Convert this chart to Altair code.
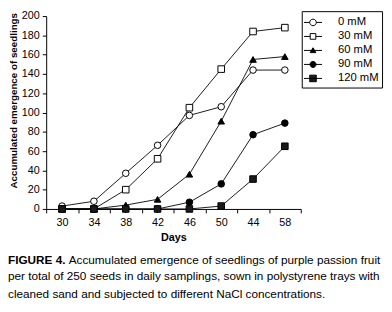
import altair as alt
import pandas as pd

days = ["30", "34", "38", "42", "46", "50", "44", "58"]
series = ["0 mM", "30 mM", "60 mM", "90 mM", "120 mM"]
v0 = [3, 8, 37, 66, 97, 106, 144, 144]
v30 = [0, 0, 20, 52, 105, 145, 184, 188]
v60 = [0, 0, 4, 10, 36, 91, 155, 158]
v90 = [0, 0, 0, 0, 7, 26, 77, 89]
v120 = [0, 0, 0, 0, 0, 3, 31, 65]
y_ticks = [0, 20, 40, 60, 80, 100, 120, 140, 160, 180, 200]
caption_bold = "FIGURE 4."
caption_lines = [
    "Accumulated emergence of seedlings of purple passion fruit",
    "per total of 250 seeds in daily samplings, sown in polystyrene trays with",
    "cleaned sand and subjected to different NaCl concentrations.",
]

rows = []
for s, vals in zip(series, [v0, v30, v60, v90, v120]):
    for d, v in zip(days, vals):
        rows.append({"day": d, "series": s, "key": s, "value": v})
df = pd.DataFrame(rows)

FONT = "Liberation Sans, Arial, sans-serif"

marker_shapes = ["circle", "square", "triangle-up", "circle", "square"]
marker_fills = ["white", "white", "black", "black", "#1a1a1a"]
legend_paths = [
    "M-1.15,0H-0.42M0.42,0H1.15M0.42,0A0.42,0.42,0,1,1,-0.42,0A0.42,0.42,0,1,1,0.42,0Z",
    "M-1.15,0H-0.36M0.36,0H1.15M-0.36,-0.36H0.36V0.36H-0.36Z",
    "M-1.15,0H1.15M0,-0.34L0.36,0.28L-0.36,0.28Z",
    "M-1.15,0H1.15M0.38,0A0.38,0.38,0,1,1,-0.38,0A0.38,0.38,0,1,1,0.38,0Z",
    "M-1.15,0H1.15M-0.42,-0.42H0.42V0.42H-0.42Z",
]

x = alt.X(
    "day:O",
    sort=days,
    scale=alt.Scale(type="band", paddingInner=0, paddingOuter=0),
    axis=alt.Axis(title="Days", labelAngle=0, tickBand="extent", tickSize=4,
                  labelPadding=4, titlePadding=4),
)
y = alt.Y(
    "value:Q",
    scale=alt.Scale(domain=[0, 200], nice=False),
    axis=alt.Axis(title="Accumulated emergence of seedlings", values=y_ticks,
                  tickSize=4, labelPadding=3, titlePadding=3, grid=False,
                  titleFontSize=10, titleY=86),
)

base = alt.Chart(df)
lines = base.mark_line(color="black", strokeWidth=0.9).encode(x=x, y=y, detail="series:N")
pts = base.mark_point(filled=True, size=45, stroke="black", strokeWidth=1, opacity=1).encode(
    x=x, y=y,
    shape=alt.Shape("series:N", scale=alt.Scale(domain=series, range=marker_shapes), legend=None),
    fill=alt.Fill("series:N", scale=alt.Scale(domain=series, range=marker_fills), legend=None),
)
leg_cfg = alt.Legend(
    title=None, orient="none", legendX=261, legendY=-5, strokeColor="black",
    padding=3, symbolSize=256, symbolStrokeWidth=1,
    symbolOpacity=1, labelFontSize=11.5, labelOffset=17, rowPadding=0.3,
    labelFont=FONT, labelColor="black", cornerRadius=0,
)
leg = base.mark_point(filled=False, size=256, strokeWidth=1, opacity=0).encode(
    x=x, y=y,
    stroke=alt.Stroke("key:N", scale=alt.Scale(domain=series, range=["black"] * 5), legend=leg_cfg),
    shape=alt.Shape("key:N", scale=alt.Scale(domain=series, range=legend_paths), legend=leg_cfg),
    fill=alt.Fill("key:N", scale=alt.Scale(domain=series, range=marker_fills), legend=leg_cfg),
)

cap_size = 12
cap_layers = [
    alt.Chart(pd.DataFrame({"t": [caption_bold]})).mark_text(
        align="left", baseline="alphabetic", font=FONT, fontSize=cap_size,
        fontWeight="bold", color="black").encode(
        text="t:N", x=alt.value(-39), y=alt.value(253)),
    alt.Chart(pd.DataFrame({"t": [caption_lines[0]]})).mark_text(
        align="left", baseline="alphabetic", font=FONT, fontSize=cap_size,
        color="black").encode(text="t:N", x=alt.value(23), y=alt.value(253)),
    alt.Chart(pd.DataFrame({"t": [caption_lines[1]]})).mark_text(
        align="left", baseline="alphabetic", font=FONT, fontSize=cap_size,
        color="black").encode(text="t:N", x=alt.value(-39), y=alt.value(270)),
    alt.Chart(pd.DataFrame({"t": [caption_lines[2]]})).mark_text(
        align="left", baseline="alphabetic", font=FONT, fontSize=cap_size,
        color="black").encode(text="t:N", x=alt.value(-39), y=alt.value(288)),
]

chart = alt.layer(lines, pts, leg, *cap_layers).resolve_scale(
    shape="independent", fill="independent", stroke="independent"
).properties(
    width=260, height=197,
    autosize=alt.AutoSizeParams(type="none"),
    padding={"left": 39, "top": 5, "right": 85, "bottom": 102},
).configure_view(stroke=None).configure_axis(
    labelFont=FONT, titleFont=FONT, labelFontSize=11, titleFontSize=11,
    titleFontWeight="bold", labelColor="black", titleColor="black",
    domainColor="black", tickColor="black", domainWidth=1, tickWidth=1,
)

chart.save("out.html", embed_options={"renderer": "svg", "actions": False})
